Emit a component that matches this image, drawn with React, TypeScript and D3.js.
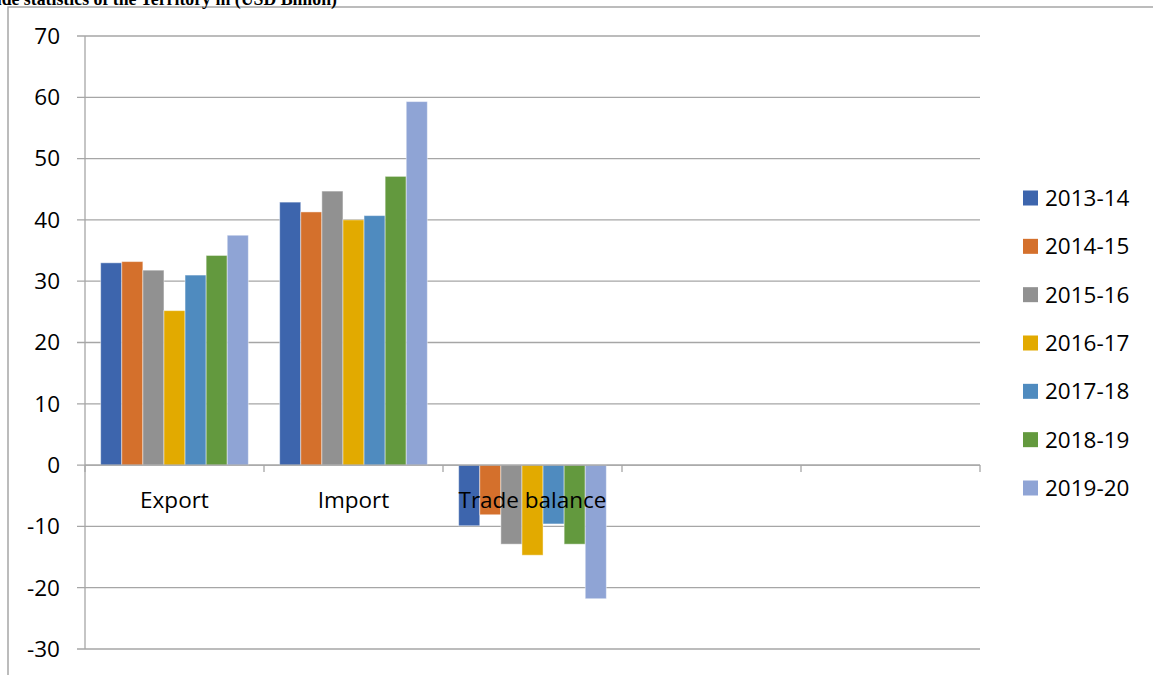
import { useEffect, useRef } from "react";
import * as d3 from "d3";

const categories = ["Export", "Import", "Trade balance", "", " "];
const years = ["2013-14", "2014-15", "2015-16", "2016-17", "2017-18", "2018-19", "2019-20"];
const exportVals = [33.0, 33.2, 31.8, 25.2, 31.0, 34.2, 37.5];
const importVals = [42.9, 41.3, 44.7, 40.0, 40.7, 47.1, 59.3];
const balanceVals = [-9.9, -8.1, -12.9, -14.7, -9.6, -12.9, -21.8];
const yTicks = [70, 60, 50, 40, 30, 20, 10, 0, -10, -20, -30];
const colors = ["#3d65ad", "#d4702c", "#919191", "#e2aa00", "#4f8bbf", "#63993e", "#8fa4d5"];
const title = "Trade statistics of the Territory in (USD Billion)";

export default function App() {
  const svgRef = useRef<SVGSVGElement>(null);

  useEffect(() => {
    if (!svgRef.current) return;
    const svg = d3.select(svgRef.current);
    svg.selectAll("*").remove();

    const left = 85, right = 980, top = 36, bottom = 649;
    const font = "'Open Sans', 'Liberation Sans', sans-serif";
    const fs = 22.5;

    // outer frame (clipped by the picture on right and bottom)
    svg.append("rect")
      .attr("x", 8).attr("y", 7)
      .attr("width", 1200).attr("height", 700)
      .attr("fill", "none").attr("stroke", "#a6a6a6").attr("stroke-width", 1.5);

    // title, cut off by the top edge as in the source
    svg.append("text")
      .attr("x", 337).attr("y", 5)
      .attr("text-anchor", "end")
      .attr("font-family", "'Liberation Serif', 'Times New Roman', serif")
      .attr("font-weight", "bold")
      .attr("font-size", 17.8)
      .text(title);

    const y = d3.scaleLinear().domain([-30, 70]).range([bottom, top]);
    const x0 = d3.scaleBand().domain(categories).range([left, right]).paddingInner(0.175).paddingOuter(0.0875);
    const x1 = d3.scaleBand().domain(years).range([0, x0.bandwidth()]);
    const step = (right - left) / categories.length;

    // gridlines
    svg.append("g").selectAll("line").data(yTicks).enter().append("line")
      .attr("x1", left - 8).attr("x2", right)
      .attr("y1", (d) => y(d)).attr("y2", (d) => y(d))
      .attr("stroke", "#a6a6a6").attr("stroke-width", 1.3);

    // y axis line
    svg.append("line")
      .attr("x1", left).attr("x2", left).attr("y1", top).attr("y2", bottom)
      .attr("stroke", "#a6a6a6").attr("stroke-width", 1.3);

    // y labels
    svg.append("g").selectAll("text").data(yTicks).enter().append("text")
      .attr("x", 60).attr("y", (d) => y(d))
      .attr("dy", "0.35em")
      .attr("text-anchor", "end")
      .attr("font-family", font).attr("font-size", fs)
      .attr("fill", "#000")
      .text((d) => d);

    const series = [exportVals, importVals, balanceVals];
    series.forEach((vals, ci) => {
      svg.append("g")
        .attr("transform", `translate(${x0(categories[ci])},0)`)
        .selectAll("rect").data(vals).enter().append("rect")
        .attr("x", (_, i) => x1(years[i]) as number)
        .attr("width", x1.bandwidth())
        .attr("y", (d) => y(Math.max(0, d)))
        .attr("height", (d) => Math.abs(y(d) - y(0)))
        .attr("fill", (_, i) => colors[i])
        .attr("stroke", "#ffffff").attr("stroke-opacity", 0.45).attr("stroke-width", 1);
    });

    // zero axis with category ticks
    svg.append("line")
      .attr("x1", left).attr("x2", right).attr("y1", y(0)).attr("y2", y(0))
      .attr("stroke", "#a6a6a6").attr("stroke-width", 1.3);
    svg.append("g").selectAll("line").data(d3.range(categories.length + 1)).enter().append("line")
      .attr("x1", (d) => left + d * step).attr("x2", (d) => left + d * step)
      .attr("y1", y(0)).attr("y2", y(0) + 7)
      .attr("stroke", "#a6a6a6").attr("stroke-width", 1.3);

    // category labels
    svg.append("g").selectAll("text").data(categories.slice(0, 3)).enter().append("text")
      .attr("x", (d) => (x0(d) as number) + x0.bandwidth() / 2)
      .attr("y", y(0) + 43)
      .attr("text-anchor", "middle")
      .attr("font-family", font).attr("font-size", fs)
      .attr("fill", "#000")
      .text((d) => d);

    // legend
    const ly = d3.scalePoint().domain(years).range([198, 488]);
    const lg = svg.append("g").selectAll("g").data(years).enter().append("g")
      .attr("transform", (d) => `translate(1023,${ly(d)})`);
    lg.append("rect").attr("x", 0).attr("y", -7.5).attr("width", 15).attr("height", 15)
      .attr("fill", (_, i) => colors[i]);
    lg.append("text").attr("x", 22).attr("dy", "0.35em")
      .attr("font-family", font).attr("font-size", fs)
      .attr("fill", "#000")
      .text((d) => d);
  }, []);

  return (
    <svg
      ref={svgRef}
      width={1153}
      height={675}
      style={{ position: "absolute", left: 0, top: 0, background: "#fff" }}
    />
  );
}
